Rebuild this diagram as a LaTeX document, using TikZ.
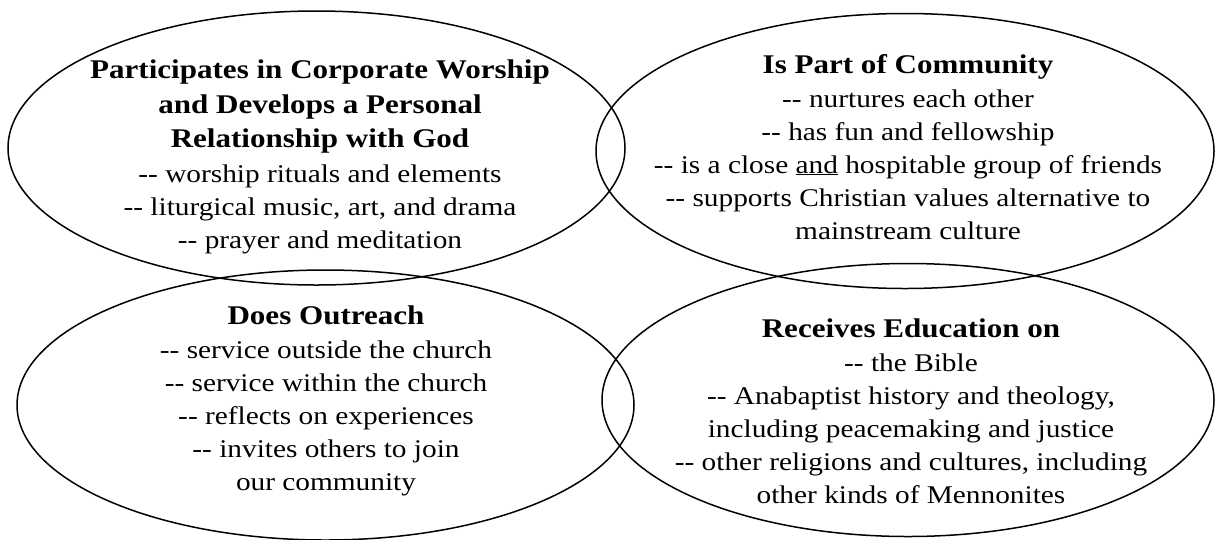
\documentclass[tikz,border=0pt]{standalone}
\usepackage{fontspec}
\setmainfont{Liberation Serif}[FakeStretch=1.15]
% heading lines: bold, a touch larger than the item lines
\newcommand{\hdline}{\bfseries\fontsize{27}{33}\selectfont}
\begin{document}
\begin{tikzpicture}[x=1pt,y=-1pt,
  ring/.style={draw=black,line width=1.5pt},
  blurb/.style={align=center,anchor=base,inner sep=0pt,
    font=\fontsize{25.5}{33}\selectfont}]
\useasboundingbox (0,0) rectangle (1215,539);
\clip (0,0) rectangle (1215,539);
\fill[white] (0,0) rectangle (1215,539);

% the four overlapping ellipses
\draw[ring] (316.5,148) ellipse [x radius=308.5pt, y radius=137pt];
\draw[ring] (905,151)   ellipse [x radius=309pt,   y radius=137.5pt];
\draw[ring] (325.5,405) ellipse [x radius=308.5pt, y radius=135pt];
\draw[ring] (908,400)   ellipse [x radius=306pt,   y radius=136.5pt];

% texts (node base sits on the last line)
\node[blurb] (worship) at (320,248) {%
  {\hdline Participates in Corporate Worship}\\[1.5pt]
  {\hdline and Develops a Personal}\\[1.5pt]
  {\hdline Relationship with God}\\[1.5pt]
  -{}- worship rituals and elements\\
  -{}- liturgical music, art, and drama\\
  -{}- prayer and meditation};

\node[blurb] (community) at (908,239) {%
  {\hdline Is Part of Community}\\[1pt]
  -{}- nurtures each other\\
  -{}- has fun and fellowship\\
  -{}- is a close \underline{and} hospitable group of friends\\
  -{}- supports Christian values alternative to\\
  mainstream culture};

\node[blurb] (outreach) at (326,490) {%
  {\hdline Does Outreach}\\[1pt]
  -{}- service outside the church\\
  -{}- service within the church\\
  -{}- reflects on experiences\\
  -{}- invites others to join\\
  our community};

\node[blurb] (education) at (911,503) {%
  {\hdline Receives Education on}\\[1pt]
  -{}- the Bible\\
  -{}- Anabaptist history and theology,\\
  including peacemaking and justice\\
  -{}- other religions and cultures, including\\
  other kinds of Mennonites};
\end{tikzpicture}
\end{document}
